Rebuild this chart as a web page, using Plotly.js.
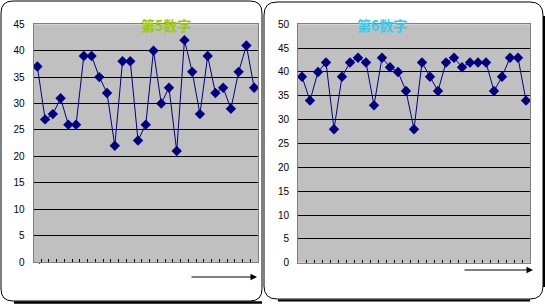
<!DOCTYPE html>
<html><head><meta charset="utf-8">
<script src="https://cdn.plot.ly/plotly-3.0.1.min.js"></script>
<style>html,body{margin:0;padding:0;background:#fff}#c{width:545px;height:305px}</style>
</head><body><div id="c"></div>
<script>
const draws = Array.from({length: 29}, (_, i) => String(i + 1));
const digit5 = [37,27,28,31,26,26,39,39,35,32,22,38,38,23,26,40,30,33,21,42,36,28,39,32,33,29,36,41,33];
const digit6 = [39,34,40,42,28,39,42,43,42,33,43,41,40,36,28,42,39,36,42,43,41,42,42,42,36,39,43,43,34];
const title5 = "第5数字";
const title6 = "第6数字";

const W = 545, H = 305;
const px = (x) => x / W;
const py = (y) => 1 - y / H;
function rr(x0, y0, x1, y1, r) {
  return `M${px(x0+r)},${py(y0)} L${px(x1-r)},${py(y0)} Q${px(x1)},${py(y0)} ${px(x1)},${py(y0+r)} ` +
         `L${px(x1)},${py(y1-r)} Q${px(x1)},${py(y1)} ${px(x1-r)},${py(y1)} L${px(x0+r)},${py(y1)} ` +
         `Q${px(x0)},${py(y1)} ${px(x0)},${py(y1-r)} L${px(x0)},${py(y0+r)} Q${px(x0)},${py(y0)} ${px(x0+r)},${py(y0)} Z`;
}

const lineStyle = {color: '#000080', width: 1};
const markerStyle = {symbol: 'diamond', size: 8, color: '#000080'};
const traces = [
  {x: draws, y: digit5, type: 'scatter', mode: 'lines+markers', line: lineStyle, marker: markerStyle, xaxis: 'x', yaxis: 'y', hoverinfo: 'none'},
  {x: draws, y: digit6, type: 'scatter', mode: 'lines+markers', line: lineStyle, marker: markerStyle, xaxis: 'x2', yaxis: 'y2', hoverinfo: 'none'}
];

const xBase = {type: 'category', range: [-0.5, 28.5], showticklabels: false, showgrid: false,
  tickmode: 'linear', tick0: 0, dtick: 1,
  ticks: 'inside', ticklen: 3, tickcolor: '#000', tickson: 'boundaries',
  showline: true, linecolor: '#808080', linewidth: 1, mirror: true, zeroline: false, fixedrange: true};
const yBase = {showgrid: true, gridcolor: '#000', gridwidth: 1, dtick: 5, tick0: 0,
  ticks: '', ticklabelstandoff: 6, showline: true, linecolor: '#808080', mirror: true, zeroline: false,
  tickfont: {family: 'Liberation Sans, Arial', size: 10, color: '#000'}, fixedrange: true};

const layout = {
  width: W, height: H, margin: {l: 0, r: 0, t: 0, b: 0},
  paper_bgcolor: '#fff', plot_bgcolor: '#C0C0C0', showlegend: false,
  xaxis: Object.assign({}, xBase, {domain: [px(33.5), px(258)], anchor: 'y'}),
  yaxis: Object.assign({}, yBase, {domain: [py(262), py(24.3)], range: [0, 45], anchor: 'x'}),
  xaxis2: Object.assign({}, xBase, {domain: [px(298), px(530)], anchor: 'y2'}),
  yaxis2: Object.assign({}, yBase, {domain: [py(262.7), py(24.3)], range: [0, 50], anchor: 'x2'}),
  shapes: [
    {type: 'path', xref: 'paper', yref: 'paper', path: rr(1, 1, 262, 301, 12), line: {color: '#000', width: 1}},
    {type: 'line', xref: 'paper', yref: 'paper', x0: px(14), x1: px(262), y0: py(302.5), y1: py(302.5), line: {color: '#000', width: 2.5}},
    {type: 'path', xref: 'paper', yref: 'paper', path: rr(264, 2, 543, 299, 13), line: {color: '#000', width: 1}},
    {type: 'line', xref: 'paper', yref: 'paper', x0: px(544), x1: px(544), y0: py(16), y1: py(287), line: {color: '#000', width: 2}},
    {type: 'line', xref: 'paper', yref: 'paper', x0: px(278), x1: px(530), y0: py(300.5), y1: py(300.5), line: {color: '#000', width: 2}}
  ],
  annotations: [
    {text: title5, xref: 'paper', yref: 'paper', x: px(139), y: py(13), showarrow: false,
     font: {family: 'Noto Sans CJK SC', size: 14, color: '#99CC00', weight: 'bold'}},
    {text: title6, xref: 'paper', yref: 'paper', x: px(409), y: py(13), showarrow: false,
     font: {family: 'Noto Sans CJK SC', size: 14, color: '#33CCEE', weight: 'bold'}},
    {text: '', xref: 'paper', yref: 'paper', x: px(257), y: py(277), ax: -67, ay: 0, axref: 'pixel', ayref: 'pixel',
     showarrow: true, arrowhead: 2, arrowsize: 1.3, arrowwidth: 1, arrowcolor: '#000'},
    {text: '', xref: 'paper', yref: 'paper', x: px(533), y: py(270), ax: -70, ay: 0, axref: 'pixel', ayref: 'pixel',
     showarrow: true, arrowhead: 2, arrowsize: 1.3, arrowwidth: 1, arrowcolor: '#000'},
    {text: '.', xref: 'paper', yref: 'paper', x: px(36), y: py(268), showarrow: false,
     font: {family: 'Liberation Sans, Arial', size: 9, color: '#000'}}
  ]
};
Plotly.newPlot('c', traces, layout, {staticPlot: true});
</script>
</body></html>
